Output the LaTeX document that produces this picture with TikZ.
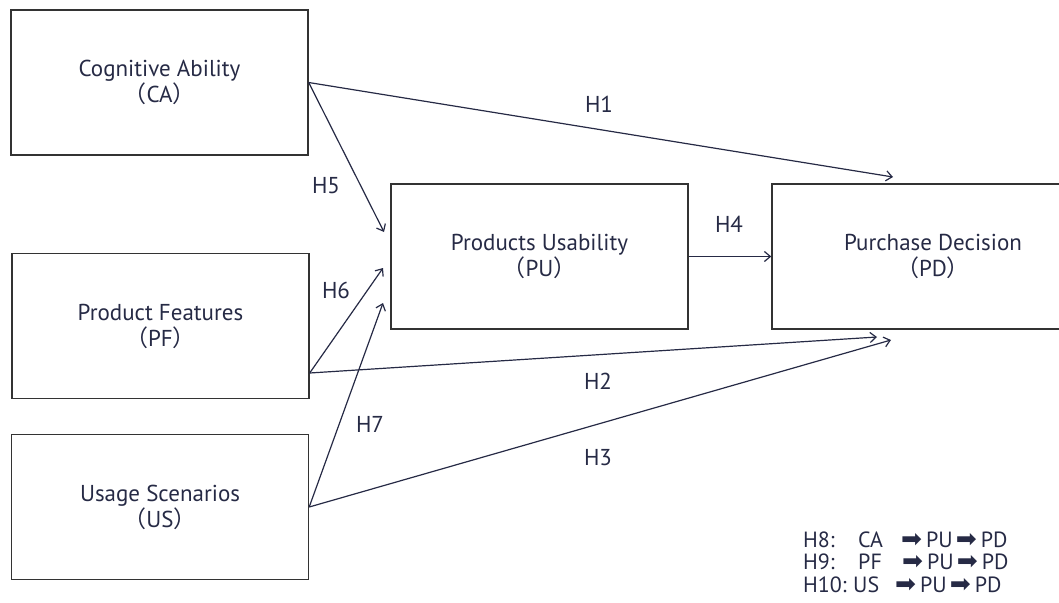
\documentclass[tikz,border=0pt]{standalone}
\usepackage{fontspec}
\setmainfont{PT Sans}
\newfontfamily\cjk{Noto Sans CJK SC}
\newfontfamily\sym{DejaVu Sans}
\usetikzlibrary{arrows.meta}
\definecolor{inkblue}{HTML}{262A45}
\definecolor{boxline}{HTML}{333333}
\newcommand{\abbr}[1]{{\cjk （}#1{\cjk ）}}
\newcommand{\thento}{\hspace{3pt}{\sym\fontsize{25}{22}\selectfont ➡}\hspace{4pt}}

\begin{document}
\begin{tikzpicture}[x=1pt,y=-1pt,
    varbox/.style={draw=boxline, line width=1.4pt, minimum width=297pt,
        minimum height=145pt, align=center, text=inkblue, inner sep=0pt,
        font=\fontsize{23}{26}\selectfont},
    hyp/.style={draw=inkblue, line width=1.2pt,
        -{Straight Barb[length=6pt,width=10pt]}},
    hlabel/.style={text=inkblue, font=\fontsize{23}{26}\selectfont}
]
\useasboundingbox (0,0) rectangle (1059,602);
\node[varbox] (ca) at (159.5,82.5) {Cognitive Ability\\\abbr{CA}};
\node[varbox] (pf) at (160.5,326) {Product Features\\\abbr{PF}};
\node[varbox] (us) at (160,507) {Usage Scenarios\\\abbr{US}};
\node[varbox] (pu) at (539.5,256.5) {Products Usability\\\abbr{PU}};
\node[varbox, minimum width=322pt] (pd) at (933,256.5) {Purchase Decision\\\abbr{PD}};
% arrow ends
\coordinate (h1end) at (893,177);
\coordinate (h5end) at (384,232);
\coordinate (h6end) at (383,268);
\coordinate (h7end) at (383,303);
\coordinate (h2end) at (877,337);
\coordinate (h3end) at (891,340);
\draw[hyp] (ca.east) -- (h1end);
\draw[hyp] (ca.east) -- (h5end);
\draw[hyp] ([yshift=-47pt]pf.east) -- (h6end);
\draw[hyp] ([yshift=-47pt]pf.east) -- (h2end);
\draw[hyp] (us.east) -- (h7end);
\draw[hyp] (us.east) -- (h3end);
\draw[hyp] (pu.east) -- (pd.west);
\foreach \h/\x/\y in {1/599/104,2/598/381,3/598/458,4/729/224,5/326/186,6/336/290,7/370/424}
    \node[hlabel] (h\h) at (\x,\y) {H\h};
% mediation key
\node[anchor=west, text=inkblue, inner sep=0pt, align=left,
    font=\fontsize{22}{22.5}\selectfont] (key) at (803,562)
    {\makebox[55pt][l]{H8:}\makebox[40pt][l]{CA}\thento PU\thento PD\\
     \makebox[55pt][l]{H9:}\makebox[41pt][l]{PF}\thento PU\thento PD\\
     \makebox[50pt][l]{H10:}\makebox[39pt][l]{US}\thento PU\thento PD};
\end{tikzpicture}
\end{document}
